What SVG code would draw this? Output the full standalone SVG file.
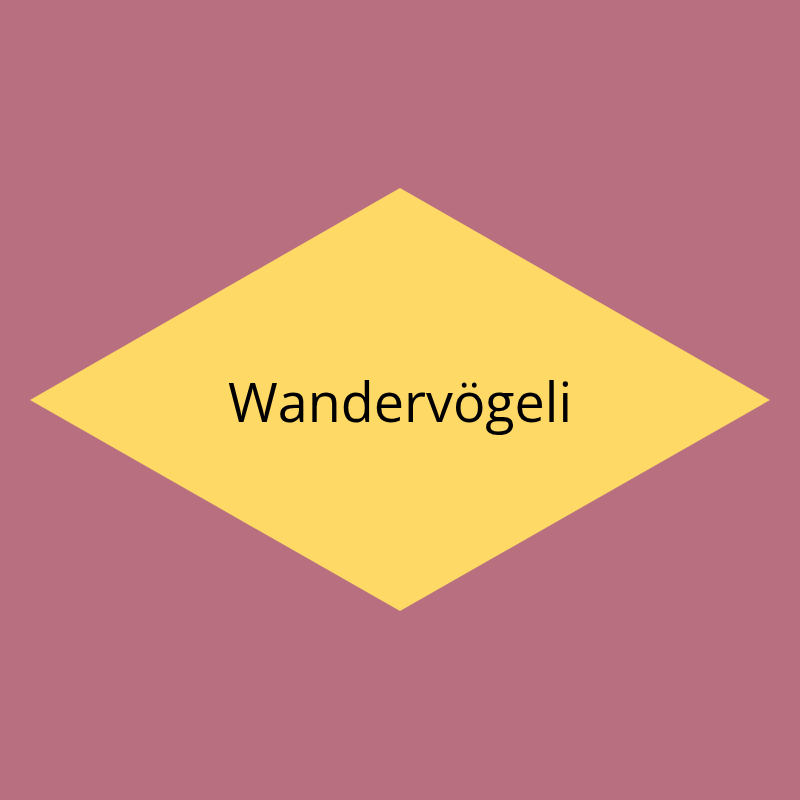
<svg xmlns="http://www.w3.org/2000/svg" width="800" height="800" viewBox="0 0 800 800">
<style>
.lbl{font-family:"Open Sans","Noto Sans","Liberation Sans",sans-serif;font-size:54px;fill:#000;text-anchor:middle}
</style>
<rect width="800" height="800" fill="#B87080"/>
<g id="node-wandervoegeli">
<polygon points="400,188 770,400 400,611 30,400" fill="#FFD966"/>
<text class="lbl" x="400" y="422" textLength="344" lengthAdjust="spacingAndGlyphs">Wandervögeli</text>
</g>
<g id="connectors"/>
</svg>
